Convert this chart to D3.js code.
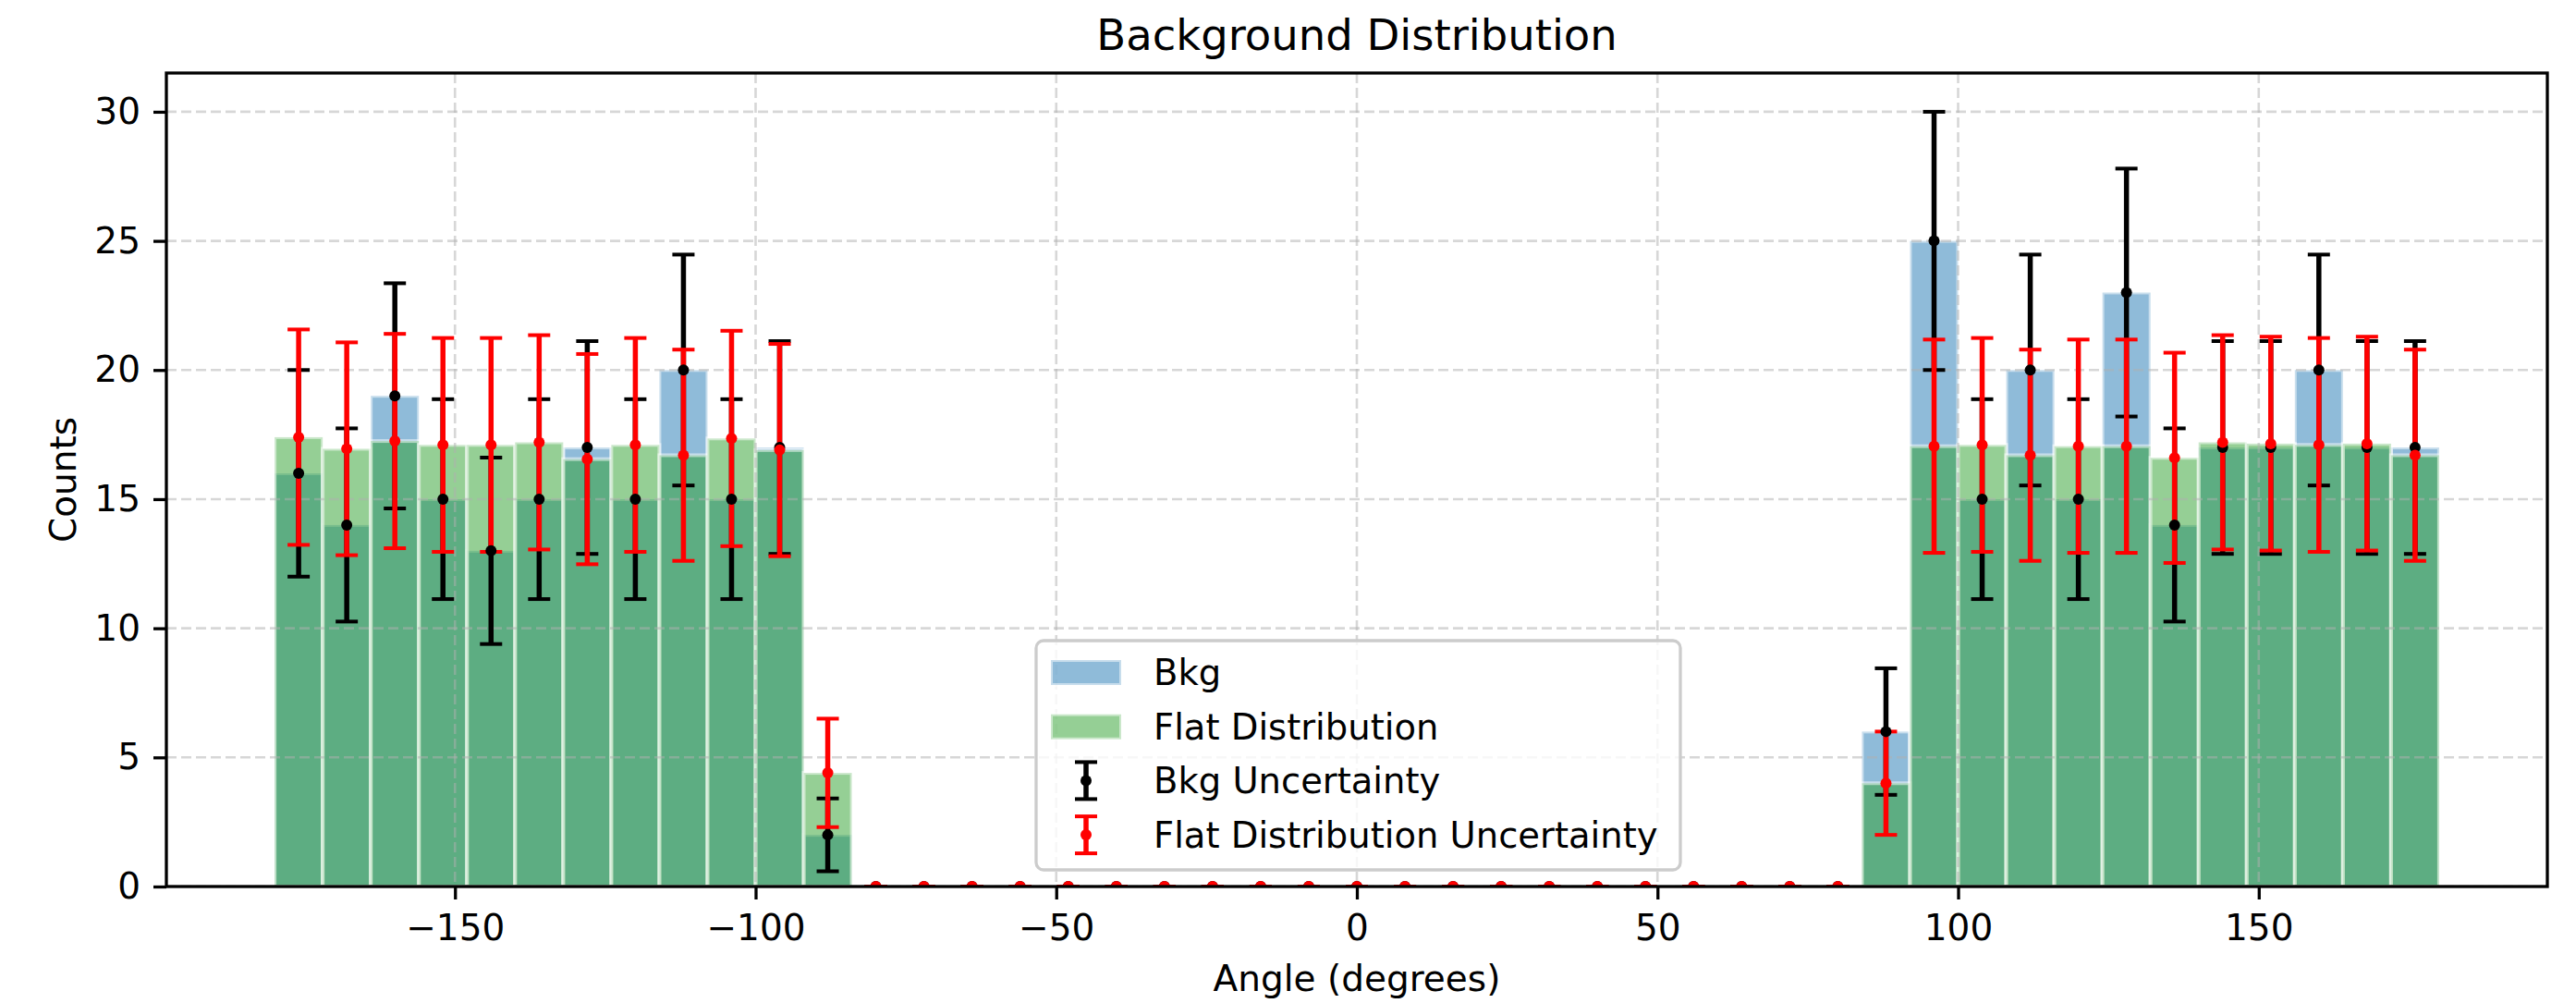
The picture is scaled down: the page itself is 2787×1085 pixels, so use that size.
<!DOCTYPE html>
<html>
<head>
<meta charset="utf-8">
<script src="https://cdn.jsdelivr.net/npm/d3@7"></script>
<style>
  body { margin: 0; background: #fff; }
  svg { display: block; font-family: "DejaVu Sans", sans-serif; }
</style>
</head>
<body>
<div id="chart"></div>
<script>
// bin centres (degrees), 8 degree wide bins
const angleBins = [
  -176, -168, -160, -152, -144, -136, -128, -120, -112, -104, -96, -88,
  -80, -72, -64, -56, -48, -40, -32, -24, -16, -8, 0, 8, 16, 24, 32, 40, 48, 56, 64, 72, 80,
  88, 96, 104, 112, 120, 128, 136, 144, 152, 160, 168, 176
];
const binWidth = 8;

const bkgCounts = [
  16, 14, 19, 15, 13, 15, 17, 15, 20, 15, 17, 2,
  0, 0, 0, 0, 0, 0, 0, 0, 0, 0, 0, 0, 0, 0, 0, 0, 0, 0, 0, 0, 0,
  6, 25, 15, 20, 15, 23, 14, 17, 17, 20, 17, 17
];
const bkgErr = [
  4.0, 3.74, 4.36, 3.87, 3.61, 3.87, 4.12, 3.87, 4.47, 3.87, 4.12, 1.41,
  0, 0, 0, 0, 0, 0, 0, 0, 0, 0, 0, 0, 0, 0, 0, 0, 0, 0, 0, 0, 0,
  2.45, 5.0, 3.87, 4.47, 3.87, 4.8, 3.74, 4.12, 4.12, 4.47, 4.12, 4.12
];
const flatCounts = [
  17.4, 16.95, 17.25, 17.1, 17.1, 17.2, 16.55, 17.1, 16.7, 17.35, 16.9, 4.4,
  0, 0, 0, 0, 0, 0, 0, 0, 0, 0, 0, 0, 0, 0, 0, 0, 0, 0, 0, 0, 0,
  4.0, 17.05, 17.1, 16.7, 17.05, 17.05, 16.6, 17.2, 17.15, 17.1, 17.15, 16.7
];
const flatErr = [
  4.17, 4.12, 4.15, 4.14, 4.14, 4.15, 4.07, 4.14, 4.09, 4.17, 4.11, 2.1,
  0, 0, 0, 0, 0, 0, 0, 0, 0, 0, 0, 0, 0, 0, 0, 0, 0, 0, 0, 0, 0,
  2.0, 4.13, 4.14, 4.09, 4.13, 4.13, 4.07, 4.15, 4.14, 4.14, 4.14, 4.09
];

const xTicks = [-150, -100, -50, 0, 50, 100, 150];
const yTicks = [0, 5, 10, 15, 20, 25, 30];

const W = 2787, H = 1085;
const m = { left: 180, top: 79, right: 2756, bottom: 959 };
const fontPx = 39;

const svg = d3.select("#chart").append("svg").attr("width", W).attr("height", H);

const x = d3.scaleLinear().domain([-198, 198]).range([m.left, m.right]);
const y = d3.scaleLinear().domain([0, 31.5]).range([m.bottom, m.top]);

svg.append("clipPath").attr("id", "plot-clip")
  .append("rect")
  .attr("x", m.left).attr("y", m.top)
  .attr("width", m.right - m.left).attr("height", m.bottom - m.top);

const plot = svg.append("g").attr("clip-path", "url(#plot-clip)");

// istogrammi: prima Bkg, poi Flat sopra
function drawBars(values, color) {
  plot.append("g")
    .selectAll("rect")
    .data(angleBins.map((c, i) => ({ c, v: values[i] })))
    .join("rect")
    .attr("x", (d) => x(d.c - binWidth / 2))
    .attr("width", (d) => x(d.c + binWidth / 2) - x(d.c - binWidth / 2))
    .attr("y", (d) => y(d.v))
    .attr("height", (d) => y(0) - y(d.v))
    .attr("fill", color)
    .attr("fill-opacity", 0.5)
    .attr("stroke", "#fff")
    .attr("stroke-opacity", 0.5)
    .attr("stroke-width", 4);
}
drawBars(bkgCounts, "#1f77b4");
drawBars(flatCounts, "#2ca02c");

// griglia tratteggiata
const grid = plot.append("g")
  .attr("stroke", "#b0b0b0")
  .attr("stroke-opacity", 0.5)
  .attr("stroke-width", 2.6)
  .attr("stroke-dasharray", "11,5");
grid.selectAll("line.v").data(xTicks).join("line").attr("class", "v")
  .attr("x1", (d) => x(d)).attr("x2", (d) => x(d))
  .attr("y1", m.top).attr("y2", m.bottom);
grid.selectAll("line.h").data(yTicks).join("line").attr("class", "h")
  .attr("x1", m.left).attr("x2", m.right)
  .attr("y1", (d) => y(d)).attr("y2", (d) => y(d));

// barre d'errore
const capHalf = 12;
function drawErrLines(values, errs, color) {
  const g = plot.append("g").attr("stroke", color);
  const data = angleBins.map((c, i) => ({ c, v: values[i], e: errs[i] }));
  g.selectAll("line.bar").data(data).join("line").attr("class", "bar")
    .attr("x1", (d) => x(d.c)).attr("x2", (d) => x(d.c))
    .attr("y1", (d) => y(d.v - d.e)).attr("y2", (d) => y(d.v + d.e))
    .attr("stroke-width", 5.5);
  ["lo", "hi"].forEach((k) => {
    g.selectAll("line.cap-" + k).data(data).join("line").attr("class", "cap-" + k)
      .attr("x1", (d) => x(d.c) - capHalf).attr("x2", (d) => x(d.c) + capHalf)
      .attr("y1", (d) => y(k === "lo" ? d.v - d.e : d.v + d.e))
      .attr("y2", (d) => y(k === "lo" ? d.v - d.e : d.v + d.e))
      .attr("stroke-width", 4);
  });
}
function drawDots(values, color) {
  plot.append("g").selectAll("circle")
    .data(angleBins.map((c, i) => ({ c, v: values[i] })))
    .join("circle")
    .attr("cx", (d) => x(d.c)).attr("cy", (d) => y(d.v))
    .attr("r", 6).attr("fill", color);
}
drawErrLines(bkgCounts, bkgErr, "#000");
drawErrLines(flatCounts, flatErr, "#ff0000");
drawDots(bkgCounts, "#000");
drawDots(flatCounts, "#ff0000");

// assi
const fmt = d3.format("");
const xAxis = svg.append("g").attr("transform", `translate(0,${m.bottom})`)
  .call(d3.axisBottom(x).tickValues(xTicks).tickSize(14).tickPadding(14).tickFormat(fmt));
const yAxis = svg.append("g").attr("transform", `translate(${m.left},0)`)
  .call(d3.axisLeft(y).tickValues(yTicks).tickSize(14).tickPadding(14).tickFormat(fmt));
[xAxis, yAxis].forEach((a) => {
  a.select(".domain").remove();
  a.selectAll(".tick line").attr("stroke", "#000").attr("stroke-width", 3.3);
  a.selectAll(".tick text").attr("font-size", fontPx).attr("fill", "#000")
    .attr("font-family", "DejaVu Sans");
});
xAxis.selectAll(".tick text").attr("dy", "0.76em");

svg.append("rect")
  .attr("x", m.left).attr("y", m.top)
  .attr("width", m.right - m.left).attr("height", m.bottom - m.top)
  .attr("fill", "none").attr("stroke", "#000").attr("stroke-width", 3.3);

// titoli
svg.append("text").attr("x", (m.left + m.right) / 2).attr("y", 54)
  .attr("text-anchor", "middle").attr("font-size", 46.5).text("Background Distribution");
svg.append("text").attr("x", (m.left + m.right) / 2).attr("y", 1072)
  .attr("text-anchor", "middle").attr("font-size", fontPx).text("Angle (degrees)");
svg.append("text")
  .attr("transform", `translate(82,${(m.top + m.bottom) / 2}) rotate(-90)`)
  .attr("text-anchor", "middle").attr("font-size", fontPx).text("Counts");

// legenda
const legendItems = [
  { label: "Bkg", type: "patch", color: "#1f77b4" },
  { label: "Flat Distribution", type: "patch", color: "#2ca02c" },
  { label: "Bkg Uncertainty", type: "err", color: "#000" },
  { label: "Flat Distribution Uncertainty", type: "err", color: "#ff0000" },
];
const lg = svg.append("g");
lg.append("rect")
  .attr("x", 1121).attr("y", 693).attr("width", 697).attr("height", 248)
  .attr("rx", 8).attr("fill", "#fff").attr("fill-opacity", 0.8)
  .attr("stroke", "#cccccc").attr("stroke-width", 3.3);
legendItems.forEach((it, i) => {
  const cy = 727 + i * 58.7;
  if (it.type === "patch") {
    lg.append("rect").attr("x", 1137).attr("y", cy - 13).attr("width", 76).attr("height", 27)
      .attr("fill", it.color).attr("fill-opacity", 0.5)
      .attr("stroke", "#fff").attr("stroke-opacity", 0.5).attr("stroke-width", 4);
  } else {
    const cx = 1175;
    lg.append("line").attr("x1", cx).attr("x2", cx).attr("y1", cy - 20).attr("y2", cy + 20)
      .attr("stroke", it.color).attr("stroke-width", 5.5);
    [-20, 20].forEach((dy) => {
      lg.append("line").attr("x1", cx - capHalf).attr("x2", cx + capHalf)
        .attr("y1", cy + dy).attr("y2", cy + dy)
        .attr("stroke", it.color).attr("stroke-width", 4);
    });
    lg.append("circle").attr("cx", cx).attr("cy", cy).attr("r", 6).attr("fill", it.color);
  }
  lg.append("text").attr("x", 1248).attr("y", cy).attr("dy", "0.36em")
    .attr("font-size", 38.5).text(it.label);
});
</script>
</body>
</html>
